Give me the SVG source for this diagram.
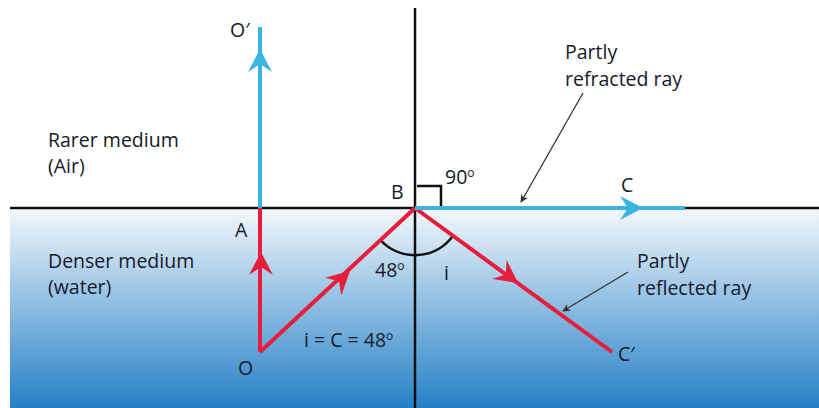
<svg xmlns="http://www.w3.org/2000/svg" xmlns:xlink="http://www.w3.org/1999/xlink" width="819" height="408" viewBox="0 0 819 408">
<defs>
<linearGradient id="water" x1="0" y1="0" x2="0" y2="1">
<stop offset="0" stop-color="#f3f8fc"/>
<stop offset="0.35" stop-color="#a9cde9"/>
<stop offset="1" stop-color="#2680c6"/>
</linearGradient>
<path id="dart" d="M0 0 L-23 -12 L-15 0 L-23 12 Z"/>
<marker id="ptr" viewBox="0 0 10 10" refX="9" refY="5" markerWidth="8" markerHeight="8" orient="auto" markerUnits="userSpaceOnUse">
<path d="M0 0 L10 5 L0 10 L3 5 Z" fill="#333"/>
</marker>
<style>
text{font-family:"Open Sans","Noto Sans",sans-serif;font-size:19.5px;fill:#161a2a}
.red{stroke:#e61e3c;stroke-width:4;fill:none}
.blue{stroke:#3ab4e0;stroke-width:4;fill:none}
.blk{stroke:#111;stroke-width:2.5;fill:none}
.ptr{stroke:#333;stroke-width:1.3;fill:none;marker-end:url(#ptr)}
.rh{fill:#e61e3c}
.bh{fill:#3ab4e0}
</style>
</defs>
<rect id="water-region" x="10" y="209" width="809" height="199" fill="url(#water)"/>
<g id="connectors">
<line class="blk" x1="10" y1="208" x2="819" y2="208"/>
<line class="blk" x1="415" y1="8" x2="415" y2="408"/>
<polyline class="blk" points="417,186 441,186 441,208" stroke-width="2"/>
<path class="blk" d="M380.5 240.2 A47 47 0 0 0 453 235.7" stroke-width="2"/>
<line class="blue" x1="260" y1="27" x2="260" y2="208"/>
<line class="red" x1="260" y1="208" x2="260" y2="352"/>
<line class="red" x1="260" y1="352" x2="415" y2="208"/>
<line class="red" x1="415" y1="208" x2="612" y2="352"/>
<line class="blue" x1="415" y1="208" x2="685" y2="208"/>
<use href="#dart" class="bh" transform="translate(260,49) rotate(-90)"/>
<use href="#dart" class="rh" transform="translate(261,252) rotate(-90)"/>
<use href="#dart" class="rh" transform="translate(350,271) rotate(-42.9)"/>
<use href="#dart" class="rh" transform="translate(518,283) rotate(36.2)"/>
<use href="#dart" class="bh" transform="translate(643,208)"/>
<line class="ptr" x1="583" y1="93" x2="521" y2="202"/>
<line class="ptr" x1="628" y1="272" x2="563" y2="311"/>
</g>
<g id="labels">
<text x="230" y="37" font-size="21">O′</text>
<text x="235" y="237">A</text>
<text x="391" y="199">B</text>
<text x="445" y="184">90<tspan font-size="12" dy="-7">o</tspan></text>
<text x="621" y="192">C</text>
<text x="618" y="361">C′</text>
<text x="238" y="375">O</text>
<text x="375" y="277">48<tspan font-size="12" dy="-7">o</tspan></text>
<text x="444" y="280">i</text>
<text x="304" y="347">i = C = 48<tspan font-size="12" dy="-7">o</tspan></text>
<text x="48" y="147">Rarer medium</text>
<text x="48" y="173">(Air)</text>
<text x="48" y="268">Denser medium</text>
<text x="48" y="294">(water)</text>
<text x="565" y="59" font-size="19">Partly</text>
<text x="565" y="86" font-size="19">refracted ray</text>
<text x="637" y="268" font-size="19">Partly</text>
<text x="637" y="295" font-size="19">reflected ray</text>
</g>
</svg>
